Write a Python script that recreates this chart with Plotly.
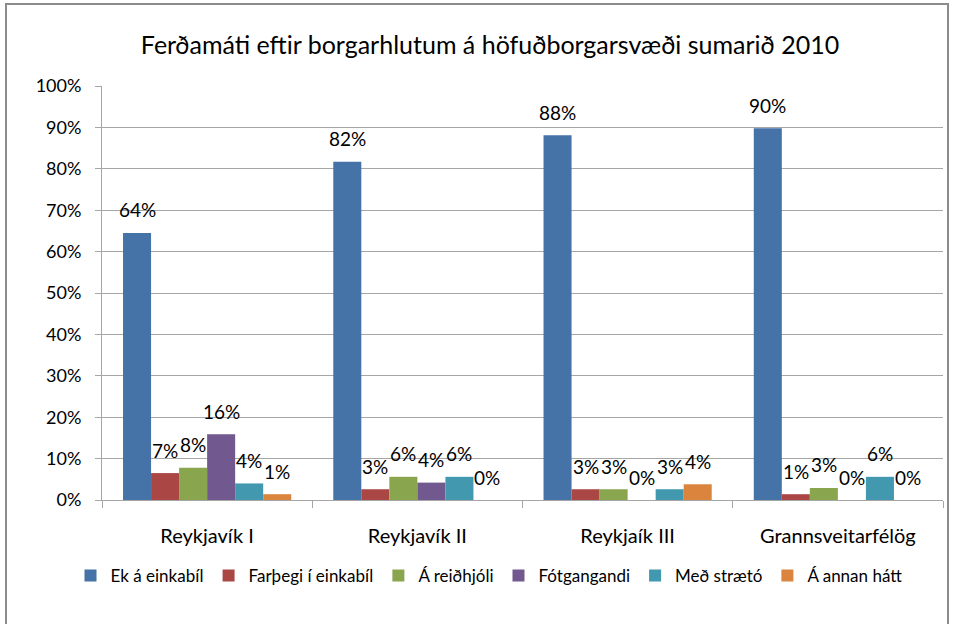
import plotly.graph_objects as go

categories = ["Reykjavík I", "Reykjavík II", "Reykjaík III", "Grannsveitarfélög"]
series_names = ["Ek á einkabíl", "Farþegi í einkabíl", "Á reiðhjóli", "Fótgangandi", "Með strætó", "Á annan hátt"]

ek_einkabil = [64.5, 81.7, 88.1, 89.8]
farthegi = [6.5, 2.6, 2.6, 1.4]
reidhjoli = [7.8, 5.6, 2.6, 2.9]
fotgangandi = [15.9, 4.2, 0, 0]
straeto = [4.0, 5.6, 2.6, 5.6]
annan_hatt = [1.4, 0, 3.8, 0]

ek_labels = ["64%", "82%", "88%", "90%"]
farthegi_labels = ["7%", "3%", "3%", "1%"]
reidhjoli_labels = ["8%", "6%", "3%", "3%"]
fotgangandi_labels = ["16%", "4%", "0%", "0%"]
straeto_labels = ["4%", "6%", "3%", "6%"]
annan_labels = ["1%", "0%", "4%", "0%"]

series_values = [ek_einkabil, farthegi, reidhjoli, fotgangandi, straeto, annan_hatt]
series_labels = [ek_labels, farthegi_labels, reidhjoli_labels, fotgangandi_labels, straeto_labels, annan_labels]
colors = ["#4572A7", "#AA4643", "#89A54E", "#71588F", "#4198AF", "#DB843D"]

W, H = 955, 624
ML, MR, MT, MB = 102, 12, 86, 124
PW, PH = W - ML - MR, H - MT - MB
BARGAP = 0.2
FONT = "Lato, Calibri, Carlito, Noto Sans, sans-serif"

fig = go.Figure()
for name, vals, col in zip(series_names, series_values, colors):
    fig.add_trace(go.Bar(name=name, x=categories, y=vals, marker=dict(color=col, line=dict(width=0)),
                         hoverinfo="skip"))

# data labels, shifted above each bar
n = len(series_names)
bar_w = PW / len(categories) * (1 - BARGAP) / n
annotations = []
for i, (vals, labs) in enumerate(zip(series_values, series_labels)):
    for cat, v, lab in zip(categories, vals, labs):
        annotations.append(dict(x=cat, y=v, xref="x", yref="y", text=lab, showarrow=False,
                                xshift=(i - (n - 1) / 2) * bar_w, yshift=23,
                                xanchor="center", yanchor="middle",
                                font=dict(family=FONT, size=19, color="#000000")))

def px_to_paper_x(px):
    return (px - ML) / PW

def px_to_paper_y(py):
    return (H - MB - py) / PH

fig.update_layout(
    width=W, height=H,
    margin=dict(l=ML, r=MR, t=MT, b=MB, autoexpand=False),
    paper_bgcolor="white", plot_bgcolor="white",
    barmode="group", bargap=BARGAP, bargroupgap=0,
    font=dict(family=FONT, size=18, color="#000000"),
    title=dict(text="Ferðamáti eftir borgarhlutum á höfuðborgarsvæði sumarið 2010",
               x=490 / W, xref="container", xanchor="center",
               y=1 - 45 / H, yref="container", yanchor="middle",
               font=dict(family=FONT, size=25, color="#000000")),
    showlegend=True,
    legend=dict(orientation="h", xref="container", yref="container",
                x=489 / W, xanchor="center",
                y=1 - 576 / H, yanchor="middle",
                font=dict(family=FONT, size=17, color="#000000"),
                itemwidth=30, tracegroupgap=0, bgcolor="rgba(0,0,0,0)"),
    annotations=annotations,
    shapes=[dict(type="rect", xref="paper", yref="paper",
                 x0=px_to_paper_x(6), x1=px_to_paper_x(948),
                 y0=px_to_paper_y(640), y1=px_to_paper_y(4),
                 line=dict(color="#8c8c8c", width=2), fillcolor="rgba(0,0,0,0)", layer="below")],
)

fig.update_yaxes(range=[0, 100], dtick=10, ticksuffix="%", showgrid=True, gridcolor="#a6a6a6", gridwidth=1,
                 showline=True, linecolor="#a6a6a6", linewidth=1, ticks="outside", ticklen=6,
                 tickcolor="#a6a6a6", ticklabelstandoff=10, zeroline=False, automargin=False,
                 tickfont=dict(family=FONT, size=18, color="#000000"))
fig.update_xaxes(showgrid=False, showline=True, linecolor="#a6a6a6", linewidth=1, ticks="outside",
                 tickson="boundaries", ticklen=7, tickcolor="#a6a6a6", ticklabelstandoff=18, automargin=False,
                 tickfont=dict(family=FONT, size=20, color="#000000"))

fig.write_html("out.html", config={"displayModeBar": False},
               post_script="document.body.style.margin='0';document.body.style.padding='0';")
